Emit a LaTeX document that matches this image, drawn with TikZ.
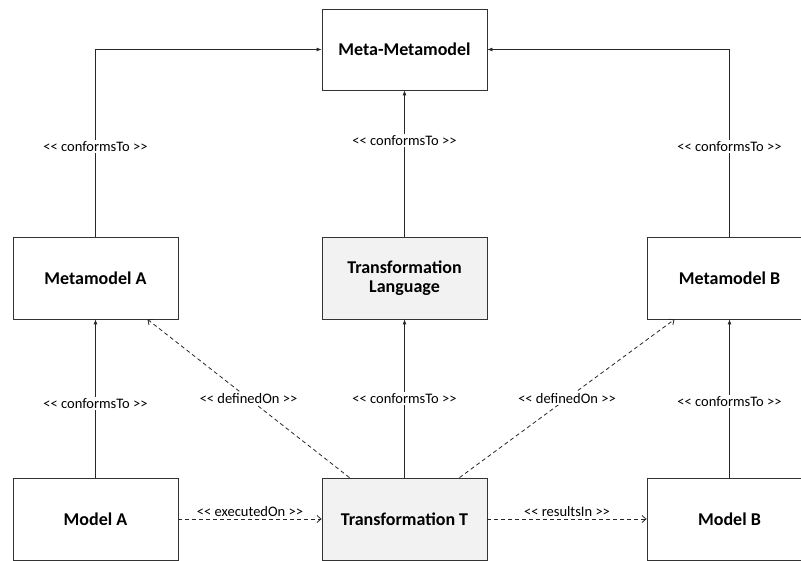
\documentclass[tikz,border=0pt]{standalone}
\usepackage{fontspec}
\setmainfont{Carlito}
\usetikzlibrary{arrows.meta}
% stereotype brackets kept as two separate characters
\newcommand{\stereo}[1]{<{}< #1 >{}>}
\begin{document}
\begin{tikzpicture}[x=1pt,y=-1pt,
  box/.style={draw=black!80, line width=0.8pt, minimum width=165pt, minimum height=82pt,
    inner sep=2pt, align=center, font=\fontsize{18}{21}\selectfont\bfseries},
  graybox/.style={box, fill=black!5},
  conn/.style={draw=black!85, line width=0.8pt, -{Latex[length=5pt,width=4pt]}},
  dconn/.style={draw=black!85, line width=0.8pt, dash pattern=on 4pt off 3pt,
    -{Straight Barb[length=4pt,width=7pt]}},
  lbl/.style={fill=white, inner sep=1.5pt, font=\fontsize{14.5}{16}\selectfont}]
\useasboundingbox (0,0) rectangle (801,561);

% boxes
\node[box, minimum height=81pt] (mm) at (404.5,49.5) {Meta-Metamodel};
\node[box] (ma) at (95.5,278) {Metamodel A};
\node[graybox] (tl) at (404.5,278) {Transformation\\[-2pt]Language};
\node[box] (mb) at (729.5,278) {Metamodel B};
\node[box] (ma0) at (95.5,519) {Model A};
\node[graybox] (tt) at (404.5,519) {Transformation T};
\node[box] (mb0) at (729.5,519) {Model B};

% conformsTo links to the meta-metamodel
\draw[conn] (ma.north) |- node[pos=0.24, lbl] {\stereo{conformsTo}} (mm.west);
\draw[conn] (mb.north) |- node[pos=0.24, lbl] {\stereo{conformsTo}} (mm.east);
\draw[conn] (tl.north) -- node[pos=0.66, lbl] {\stereo{conformsTo}} (mm.south);

% conformsTo links from models to metamodels
\draw[conn] (ma0.north) -- node[pos=0.47, lbl] {\stereo{conformsTo}} (ma.south);
\draw[conn] (tt.north) -- node[pos=0.5, lbl] {\stereo{conformsTo}} (tl.south);
\draw[conn] (mb0.north) -- node[pos=0.48, lbl] {\stereo{conformsTo}} (mb.south);

% definedOn links
\coordinate (tlA) at ([xshift=-55pt]tt.north);
\coordinate (trB) at ([xshift=55pt]tt.north);
\draw[dconn] (tlA) -- node[pos=0.5, lbl] {\stereo{definedOn}} ([xshift=52pt]ma.south);
\draw[dconn] (trB) -- node[pos=0.5, lbl] {\stereo{definedOn}} ([xshift=-55pt]mb.south);

% execution and result
\draw[dconn] (ma0.east) -- node[pos=0.5, above=1pt, inner sep=1pt, font=\fontsize{14.5}{16}\selectfont] {\stereo{executedOn}} (tt.west);
\draw[dconn] (tt.east) -- node[pos=0.5, above=1pt, inner sep=1pt, font=\fontsize{14.5}{16}\selectfont] {\stereo{resultsIn}} (mb0.west);
\end{tikzpicture}
\end{document}
